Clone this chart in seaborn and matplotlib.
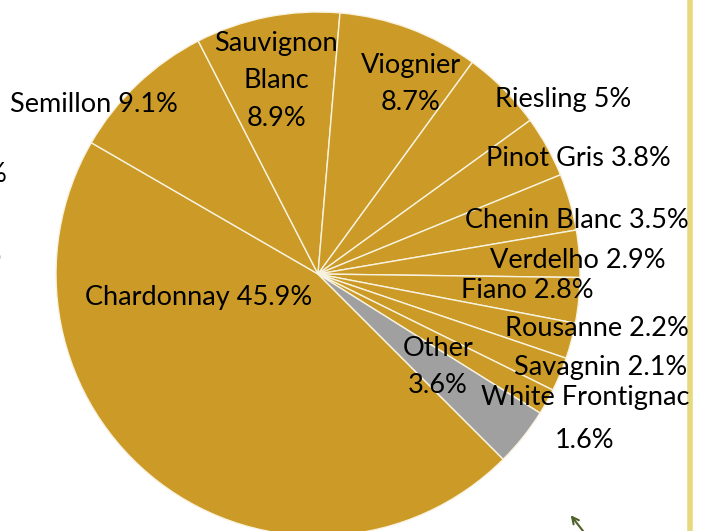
import seaborn as sns
import matplotlib.pyplot as plt

# White wine varieties share (%)
varieties = ["Chardonnay", "Semillon", "Sauvignon Blanc", "Viognier", "Riesling",
             "Pinot Gris", "Chenin Blanc", "Verdelho", "Fiano", "Rousanne",
             "Savagnin", "White Frontignac", "Other"]
shares = [45.9, 9.1, 8.9, 8.7, 5, 3.8, 3.5, 2.9, 2.8, 2.2, 2.1, 1.6, 3.6]
label_texts = ["Chardonnay 45.9%", "Semillon 9.1%", "Sauvignon\nBlanc\n8.9%",
               "Viognier\n8.7%", "Riesling 5%", "Pinot Gris 3.8%",
               "Chenin Blanc 3.5%", "Verdelho 2.9%", "Fiano 2.8%",
               "Rousanne 2.2%", "Savagnin 2.1%", "White Frontignac",
               "Other\n3.6%"]

# label centres in pixels (from top-left)
label_pos = [(199, 298), (94, 104), (276, 81), (411, 84), (563, 100),
             (578, 158), (577, 221), (578, 260), (527, 290), (597, 328),
             (601, 368), (585, 398), (438, 367)]

sns.set_theme(style="white")
plt.rcParams['font.family'] = ['Lato', 'DejaVu Sans']

W, H = 704, 531
fig = plt.figure(figsize=(W / 100, H / 100), dpi=100)
ax = fig.add_axes([0, 0, 1, 1])

gold = "#CC9A26"
colors = [gold] * (len(shares) - 1) + ["#A0A0A0"]

ax.pie(shares, colors=colors, startangle=-45, counterclock=False,
       radius=262, center=(318, H - 274), frame=True,
       wedgeprops=dict(edgecolor="#F8F3E0", linewidth=1))
ax.set_xlim(0, W)
ax.set_ylim(0, H)
ax.set_aspect('equal')
ax.axis('off')

for txt, (x, y) in zip(label_texts, label_pos):
    ax.text(x, H - y, txt, ha='center', va='center', fontsize=19.5,
            color='black', linespacing=1.6)
# second line of the White Frontignac label sits lower
ax.text(585, H - 440, "1.6%", ha='center', va='center', fontsize=19.5, color='black')

# clipped labels at the left edge, the side bar and the arrow tip
ax.text(-4, H - 175, "%", ha='center', va='center', fontsize=19.5, color='black')
ax.text(-6, H - 257, "o", ha='center', va='center', fontsize=19.5, color='black')
ax.axvline(690, color="#E6D97F", linewidth=4)
ax.annotate("", xy=(569, H - 513), xytext=(590, H - 540),
            arrowprops=dict(arrowstyle="->", color="#4F6228", lw=1.5))

plt.savefig("out.png", dpi=100)
